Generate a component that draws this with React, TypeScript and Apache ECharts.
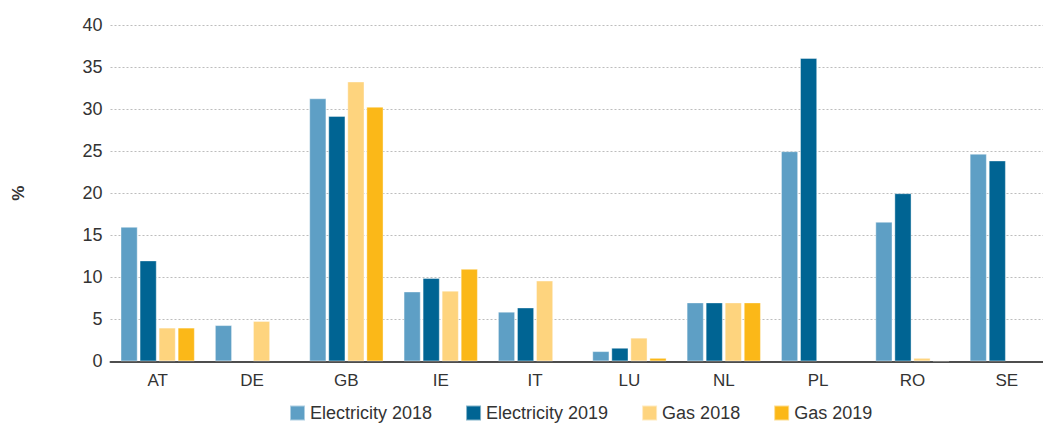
import React, { useEffect, useRef } from "react";
import * as echarts from "echarts";

const categories = ["AT", "DE", "GB", "IE", "IT", "LU", "NL", "PL", "RO", "SE"];
const electricity2018 = [16.0, 4.3, 31.3, 8.3, 5.9, 1.2, 7.0, 25.0, 16.6, 24.7];
const electricity2019 = [12.0, null, 29.2, 9.9, 6.4, 1.6, 7.0, 36.1, 20.0, 23.9];
const gas2018 = [4.0, 4.8, 33.3, 8.4, 9.6, 2.8, 7.0, null, 0.4, null];
const gas2019 = [4.0, null, 30.3, 11.0, null, 0.4, 7.0, null, 0.1, null];
const seriesNames = ["Electricity 2018", "Electricity 2019", "Gas 2018", "Gas 2019"];
const seriesColors = ["#5E9FC5", "#006493", "#FED47E", "#FBB818"];

const FONT = "'Liberation Sans', Arial, sans-serif";

export default function App() {
  const ref = useRef<HTMLDivElement>(null);
  useEffect(() => {
    if (!ref.current) return;
    const chart = echarts.init(ref.current, null, { renderer: "svg" });
    const data = [electricity2018, electricity2019, gas2018, gas2019];
    chart.setOption({
      animation: false,
      textStyle: { fontFamily: FONT },
      grid: { left: 110.5, right: 10, top: 25.3, bottom: 63.7 },
      legend: {
        left: 289,
        top: 404,
        padding: 0,
        itemWidth: 15,
        itemHeight: 15,
        itemGap: 33,
        icon: "rect",
        textStyle: { fontFamily: FONT, fontSize: 18, color: "#333", lineHeight: 18 },
        data: seriesNames,
      },
      xAxis: {
        type: "category",
        data: categories,
        axisTick: { show: false },
        axisLine: { lineStyle: { color: "#4d4d4d", width: 2 } },
        axisLabel: { color: "#333", fontSize: 17, margin: 11, fontFamily: FONT },
      },
      yAxis: {
        type: "value",
        min: 0,
        max: 40,
        interval: 5,
        name: "%",
        nameLocation: "middle",
        nameRotate: 90,
        nameGap: 84,
        nameTextStyle: { color: "#333", fontSize: 17, fontWeight: "bold", fontFamily: FONT },
        axisLine: { show: false },
        axisTick: { show: false },
        axisLabel: { color: "#333", fontSize: 18, margin: 8, fontFamily: FONT },
        splitLine: { lineStyle: { color: "#bdbdbd", type: [2, 2], width: 1 } },
      },
      series: data.map((d, i) => ({
        name: seriesNames[i],
        type: "bar",
        data: d,
        barWidth: 17,
        barGap: "12%",
        itemStyle: { color: seriesColors[i], borderColor: "rgba(255,255,255,0.5)", borderWidth: 0.8 },
      })),
    });
    return () => chart.dispose();
  }, []);
  return (
    <div style={{ position: "absolute", left: 0, top: 0, width: 1043, height: 425, overflow: "hidden", background: "#fff" }}>
      <div ref={ref} style={{ width: 1064, height: 425 }} />
    </div>
  );
}
